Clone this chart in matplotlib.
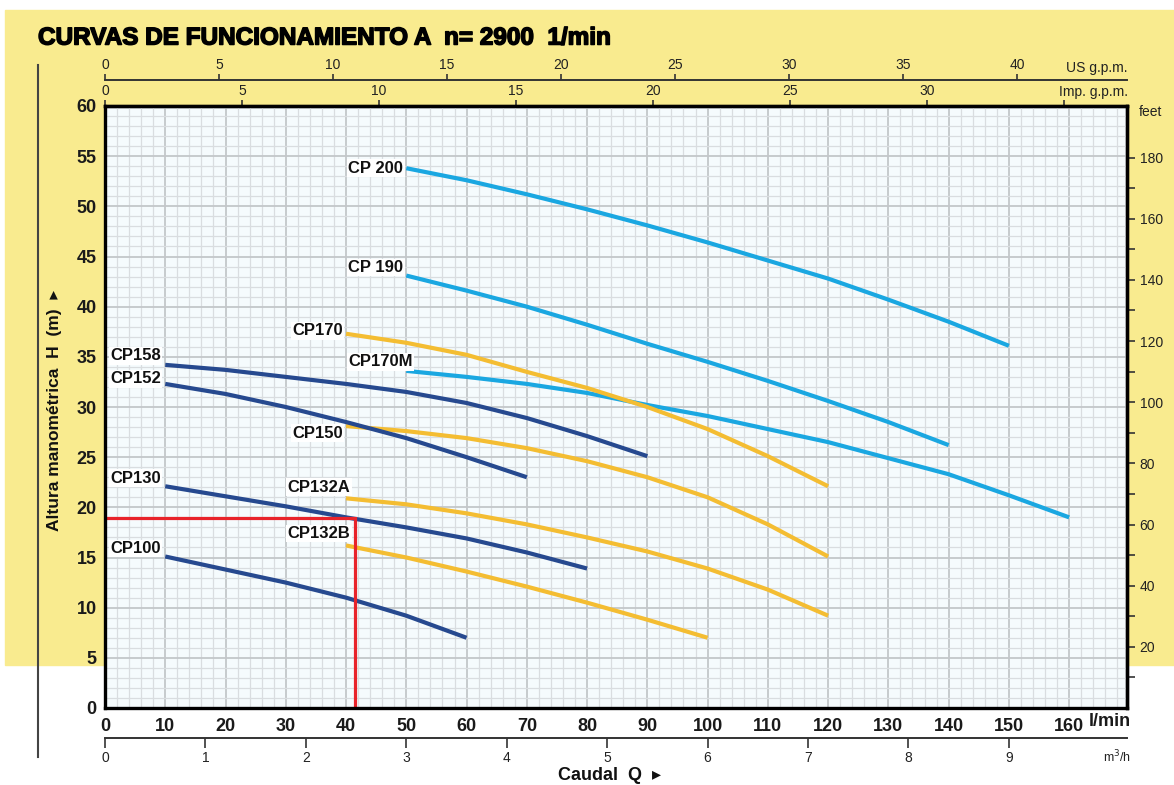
import matplotlib
matplotlib.use('Agg')
import matplotlib.pyplot as plt
import matplotlib.patheffects as pe
from matplotlib import font_manager as fm
from matplotlib.patches import Rectangle
from matplotlib.lines import Line2D
from matplotlib.ticker import MultipleLocator

# ---- data (Q in l/min, H in m) ----
q_cp200 = [50, 60, 70, 80, 90, 100, 110, 120, 130, 140, 150]
h_cp200 = [53.8, 52.6, 51.2, 49.7, 48.1, 46.4, 44.6, 42.8, 40.7, 38.5, 36.1]

q_cp190 = [50, 60, 70, 80, 90, 100, 110, 120, 130, 140]
h_cp190 = [43.1, 41.6, 40.0, 38.2, 36.3, 34.5, 32.6, 30.6, 28.5, 26.2]

q_cp170m = [50, 60, 70, 80, 90, 100, 110, 120, 130, 140, 150, 160]
h_cp170m = [33.6, 33.0, 32.3, 31.4, 30.2, 29.1, 27.8, 26.5, 24.9, 23.3, 21.2, 19.0]

q_cp170 = [40, 50, 60, 70, 80, 90, 100, 110, 120]
h_cp170 = [37.3, 36.4, 35.2, 33.5, 31.9, 30.0, 27.8, 25.1, 22.1]

q_cp150 = [40, 50, 60, 70, 80, 90, 100, 110, 120]
h_cp150 = [28.1, 27.6, 26.9, 25.9, 24.6, 23.0, 21.0, 18.3, 15.1]

q_cp132a = [40, 50, 60, 70, 80, 90, 100, 110, 120]
h_cp132a = [20.9, 20.3, 19.4, 18.3, 17.0, 15.6, 13.9, 11.8, 9.2]

q_cp132b = [40, 50, 60, 70, 80, 90, 100]
h_cp132b = [16.2, 15.0, 13.6, 12.1, 10.5, 8.8, 7.0]

q_cp158 = [10, 20, 30, 40, 50, 60, 70, 80, 90]
h_cp158 = [34.2, 33.7, 33.0, 32.3, 31.5, 30.4, 28.9, 27.1, 25.1]

q_cp152 = [10, 20, 30, 40, 50, 60, 70]
h_cp152 = [32.3, 31.3, 30.0, 28.5, 26.9, 25.0, 23.0]

q_cp130 = [10, 20, 30, 40, 50, 60, 70, 80]
h_cp130 = [22.1, 21.1, 20.1, 19.0, 18.0, 16.9, 15.5, 13.9]

q_cp100 = [10, 20, 30, 40, 50, 60]
h_cp100 = [15.1, 13.8, 12.5, 11.0, 9.2, 7.0]

names = ["CP 200", "CP 190", "CP170M", "CP170", "CP150", "CP132A", "CP132B",
         "CP158", "CP152", "CP130", "CP100"]
label_q = [49.5, 49.5, 51.1, 39.5, 39.5, 40.7, 40.7, 9.3, 9.3, 9.3, 9.3]
label_h = [53.8, 43.9, 34.5, 37.6, 27.4, 22.0, 17.4, 35.1, 32.8, 22.9, 15.9]

q_op = 41.5
h_op = 18.9

LIGHT = '#1aa7e1'
DARK = '#26498f'
YEL = '#f4bd32'
curves = [(q_cp200, h_cp200, LIGHT), (q_cp190, h_cp190, LIGHT),
          (q_cp170m, h_cp170m, LIGHT), (q_cp170, h_cp170, YEL),
          (q_cp150, h_cp150, YEL), (q_cp132a, h_cp132a, YEL),
          (q_cp132b, h_cp132b, YEL), (q_cp158, h_cp158, DARK),
          (q_cp152, h_cp152, DARK), (q_cp130, h_cp130, DARK),
          (q_cp100, h_cp100, DARK)]

# ---- fonts ----
avail = {f.name for f in fm.fontManager.ttflist}
SANS = 'Liberation Sans' if 'Liberation Sans' in avail else 'DejaVu Sans'
NARROW = 'Liberation Sans Narrow' if 'Liberation Sans Narrow' in avail else SANS
plt.rcParams['font.family'] = [SANS, 'DejaVu Sans']

W, H = 1174, 785
fig = plt.figure(figsize=(W / 100, H / 100), dpi=100)
fig.patch.set_facecolor('white')


def fx(x):
    return x / W


def fy(y):
    return 1 - y / H


# yellow background band (behind everything)
fig.patches.append(Rectangle((fx(5), fy(665)), fx(1174 - 5), (665 - 10) / H,
                             transform=fig.transFigure, color='#f9eb8f', zorder=-10))
fig.add_artist(Line2D([fx(38), fx(38)], [fy(65), fy(757)], transform=fig.transFigure,
                      color='#444444', lw=1.5, zorder=-5))

ax = fig.add_axes([fx(105), fy(708), fx(1127 - 105), (708 - 106) / H])
ax.set_zorder(1)
ax.set_facecolor('#f5fbfd')
ax.set_xlim(0, 169.6)
ax.set_ylim(0, 60)

ax.xaxis.set_minor_locator(MultipleLocator(2))
ax.yaxis.set_minor_locator(MultipleLocator(1))
ax.set_xticks(range(0, 161, 10))
ax.set_yticks(range(0, 61, 5))
ax.grid(which='minor', color='#d9dde0', lw=0.9)
ax.grid(which='major', color='#c3c7ca', lw=1.3)
ax.set_axisbelow(True)
ax.tick_params(which='both', length=0)
ax.tick_params(axis='x', pad=7)
ax.tick_params(axis='y', pad=6)
for lab in ax.get_xticklabels() + ax.get_yticklabels():
    lab.set_fontfamily(NARROW)
    lab.set_fontweight('bold')
    lab.set_fontsize(13)
    lab.set_color('#1a1a1a')
for s in ax.spines.values():
    s.set_linewidth(2.4)
    s.set_color('black')
    s.set_zorder(5)

for q, h, c in curves:
    ax.plot(q, h, color=c, lw=3.0, solid_capstyle='butt', solid_joinstyle='round',
            zorder=3)

for n, q, h in zip(names, label_q, label_h):
    ax.text(q, h, n, ha='right', va='center', fontsize=12, fontweight='bold',
            color='#111111', zorder=4,
            bbox=dict(boxstyle='square,pad=0.08', fc='white', ec='none'))

ax.plot([0, q_op, q_op], [h_op, h_op, 0], color='#e8232a', lw=2.3, zorder=4,
        solid_joinstyle='miter')


def style_sec(sec, axis):
    sec.tick_params(length=4, width=1.2, color='#333333', labelsize=10,
                    labelcolor='#222222', pad=2)
    labels = sec.get_xticklabels() if axis == 'x' else sec.get_yticklabels()
    for lab in labels:
        lab.set_fontfamily(NARROW)
    for s in sec.spines.values():
        s.set_linewidth(1.4)
        s.set_color('#333333')


imp = ax.secondary_xaxis('top', functions=(lambda q: q / 4.546, lambda g: g * 4.546))
imp.set_xticks(range(0, 36, 5), ['0', '5', '10', '15', '20', '25', '30', ''])
style_sec(imp, 'x')
for s in imp.spines.values():
    s.set_linewidth(2.4)
    s.set_color('black')

us = ax.secondary_xaxis(1.043, functions=(lambda q: q / 3.785, lambda g: g * 3.785))
us.set_xticks(range(0, 41, 5))
style_sec(us, 'x')

m3 = ax.secondary_xaxis(-0.05, functions=(lambda q: q * 0.06, lambda m: m / 0.06))
m3.set_xticks(range(0, 10))
style_sec(m3, 'x')
m3.tick_params(length=7, pad=2)

feet = ax.secondary_yaxis('right', functions=(lambda h: h * 3.2808, lambda f: f / 3.2808))
feet.set_yticks(range(20, 181, 20))
feet.set_yticks(range(10, 171, 20), minor=True)
style_sec(feet, 'y')
feet.tick_params(which='both', length=6, width=1.2, color='#333333', pad=3)
for s in feet.spines.values():
    s.set_linewidth(2.4)
    s.set_color('black')

# ---- texts ----
fig.text(fx(38), fy(38), "CURVAS DE FUNCIONAMIENTO A  n= 2900  1/min", ha='left',
         va='center', fontsize=17.5, fontweight='bold', color='black',
         path_effects=[pe.withStroke(linewidth=1.1, foreground='black')])
fig.text(fx(1128), fy(68), "US g.p.m.", ha='right', va='center', fontsize=10,
         family=NARROW, color='#222222')
fig.text(fx(1128), fy(92), "Imp. g.p.m.", ha='right', va='center', fontsize=10,
         family=NARROW, color='#222222')
fig.text(fx(1139), fy(112), "feet", ha='left', va='center', fontsize=10,
         family=NARROW, color='#222222')
fig.text(fx(1131), fy(722), "l/min", ha='right', va='center', fontsize=13,
         fontweight='bold', family=NARROW, color='#1a1a1a')
fig.text(fx(1131), fy(757), "m$^3$/h", ha='right', va='center', fontsize=9,
         family=NARROW, color='#222222')
fig.text(fx(55), fy(410), "Altura manométrica  H  (m)  \u25b8", rotation=90,
         ha='center', va='center', fontsize=12.5, fontweight='bold',
         family=[SANS, 'DejaVu Sans'], color='#111111')
fig.text(fx(609), fy(775), "Caudal  Q  \u25b8", ha='center', va='center',
         fontsize=13, fontweight='bold', family=[SANS, 'DejaVu Sans'],
         color='#111111')

fig.savefig('out.png', dpi=100)
